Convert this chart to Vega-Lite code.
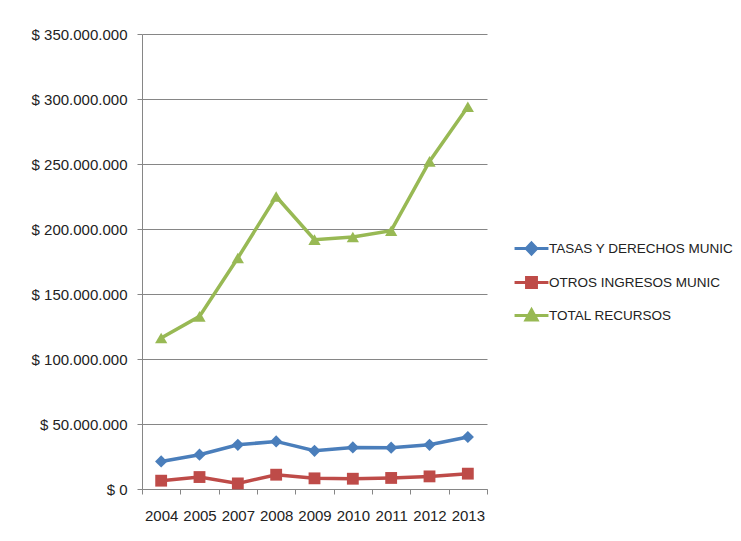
{
  "$schema": "https://vega.github.io/schema/vega-lite/v6.json",
  "width": 345,
  "height": 455,
  "autosize": {"type": "none"},
  "padding": {"left": 142, "top": 34, "right": 254, "bottom": 52},
  "background": "white",
  "config": {"view": {"stroke": null}, "font": "Liberation Sans"},
  "data": {
    "values": [
      {"year": "2004", "series": "TASAS Y DERECHOS MUNIC", "value": 21200000},
      {"year": "2005", "series": "TASAS Y DERECHOS MUNIC", "value": 26400000},
      {"year": "2007", "series": "TASAS Y DERECHOS MUNIC", "value": 34000000},
      {"year": "2008", "series": "TASAS Y DERECHOS MUNIC", "value": 36600000},
      {"year": "2009", "series": "TASAS Y DERECHOS MUNIC", "value": 29400000},
      {"year": "2010", "series": "TASAS Y DERECHOS MUNIC", "value": 32000000},
      {"year": "2011", "series": "TASAS Y DERECHOS MUNIC", "value": 31800000},
      {"year": "2012", "series": "TASAS Y DERECHOS MUNIC", "value": 34000000},
      {"year": "2013", "series": "TASAS Y DERECHOS MUNIC", "value": 40000000},
      {"year": "2004", "series": "OTROS INGRESOS MUNIC", "value": 6400000},
      {"year": "2005", "series": "OTROS INGRESOS MUNIC", "value": 9200000},
      {"year": "2007", "series": "OTROS INGRESOS MUNIC", "value": 4300000},
      {"year": "2008", "series": "OTROS INGRESOS MUNIC", "value": 11000000},
      {"year": "2009", "series": "OTROS INGRESOS MUNIC", "value": 8200000},
      {"year": "2010", "series": "OTROS INGRESOS MUNIC", "value": 7900000},
      {"year": "2011", "series": "OTROS INGRESOS MUNIC", "value": 8500000},
      {"year": "2012", "series": "OTROS INGRESOS MUNIC", "value": 9700000},
      {"year": "2013", "series": "OTROS INGRESOS MUNIC", "value": 11800000},
      {"year": "2004", "series": "TOTAL RECURSOS", "value": 116200000},
      {"year": "2005", "series": "TOTAL RECURSOS", "value": 132800000},
      {"year": "2007", "series": "TOTAL RECURSOS", "value": 177700000},
      {"year": "2008", "series": "TOTAL RECURSOS", "value": 225000000},
      {"year": "2009", "series": "TOTAL RECURSOS", "value": 191800000},
      {"year": "2010", "series": "TOTAL RECURSOS", "value": 193800000},
      {"year": "2011", "series": "TOTAL RECURSOS", "value": 198700000},
      {"year": "2012", "series": "TOTAL RECURSOS", "value": 252000000},
      {"year": "2013", "series": "TOTAL RECURSOS", "value": 294000000}
    ]
  },
  "encoding": {
    "x": {
      "field": "year",
      "type": "ordinal",
      "sort": null,
      "scale": {"paddingInner": 0, "paddingOuter": 0},
      "axis": {
        "title": null,
        "labelAngle": 0,
        "labelFontSize": 15,
        "labelColor": "#222222",
        "labelPadding": 14,
        "tickBand": "extent",
        "tickSize": 5,
        "tickColor": "#868686",
        "domainColor": "#868686",
        "grid": false
      }
    },
    "y": {
      "field": "value",
      "type": "quantitative",
      "scale": {"domain": [0, 350000000], "nice": false},
      "axis": {
        "title": null,
        "values": [0, 50000000, 100000000, 150000000, 200000000, 250000000, 300000000, 350000000],
        "labelExpr": "'$ ' + replace(format(datum.value, ','), regexp(',', 'g'), '.')",
        "labelFontSize": 15,
        "labelColor": "#222222",
        "labelPadding": 10,
        "tickSize": 5,
        "tickColor": "#868686",
        "domainColor": "#868686",
        "gridColor": "#868686",
        "gridOpacity": 1
      }
    },
    "color": {
      "field": "series",
      "type": "nominal",
      "sort": null,
      "scale": {
        "domain": ["TASAS Y DERECHOS MUNIC", "OTROS INGRESOS MUNIC", "TOTAL RECURSOS"],
        "range": ["#4A7EBB", "#BE4B48", "#98B954"]
      },
      "legend": {
        "title": null,
        "orient": "none",
        "legendX": 373,
        "legendY": 198,
        "labelFontSize": 13.5,
        "labelColor": "#222222",
        "labelLimit": 400,
        "symbolSize": 900,
        "labelOffset": 1,
        "rowPadding": 5,
        "padding": 0,
        "encode": {
          "symbols": {
            "update": {
              "shape": {"signal": "datum.value === 'TASAS Y DERECHOS MUNIC' ? 'M-1.13,0H1.13M0,-0.37L0.35,0L0,0.37L-0.35,0Z' : datum.value === 'OTROS INGRESOS MUNIC' ? 'M-1.13,0H1.13M-0.33,-0.33H0.33V0.33H-0.33Z' : 'M-1.13,0H1.13M0,-0.38L0.37,0.3H-0.37Z'"},
              "fill": {"scale": "color", "field": "value"},
              "stroke": {"scale": "color", "field": "value"},
              "strokeWidth": {"value": 3},
              "opacity": {"value": 1},
              "fillOpacity": {"value": 1}
            }
          }
        }
      }
    }
  },
  "layer": [
    {"mark": {"type": "line", "strokeWidth": 3.5}},
    {
      "transform": [{"filter": "datum.series === 'TASAS Y DERECHOS MUNIC'"}],
      "mark": {"type": "point", "filled": true, "size": 150, "opacity": 1, "shape": "diamond"}
    },
    {
      "transform": [{"filter": "datum.series === 'OTROS INGRESOS MUNIC'"}],
      "mark": {"type": "point", "filled": true, "size": 140, "opacity": 1, "shape": "square"}
    },
    {
      "transform": [{"filter": "datum.series === 'TOTAL RECURSOS'"}],
      "mark": {"type": "point", "filled": true, "size": 150, "opacity": 1, "shape": "triangle-up"}
    }
  ]
}
